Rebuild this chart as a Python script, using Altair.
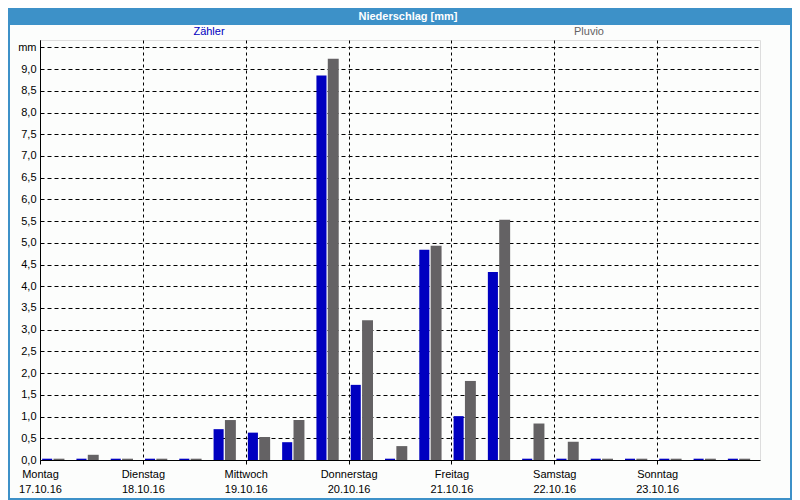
import altair as alt
import pandas as pd

# ---- data ----
days = ["Montag", "Dienstag", "Mittwoch", "Donnerstag", "Freitag", "Samstag", "Sonntag"]
dates = ["17.10.16", "18.10.16", "19.10.16", "20.10.16", "21.10.16", "22.10.16", "23.10.16"]
slots = list(range(21))  # 8-hour periods, Monday 00:00 .. Sunday 24:00
series = ["Zähler", "Pluvio"]
zaehler = [0.03, 0.03, 0.03, 0.03, 0.03, 0.71, 0.63, 0.41, 8.85, 1.73, 0.03,
           4.84, 1.01, 4.33, 0.03, 0.03, 0.03, 0.03, 0.03, 0.03, 0.03]
pluvio = [0.03, 0.12, 0.03, 0.03, 0.03, 0.92, 0.53, 0.92, 9.24, 3.22, 0.32,
          4.93, 1.82, 5.53, 0.84, 0.42, 0.03, 0.03, 0.03, 0.03, 0.03]
y_ticks = [i * 0.5 for i in range(20)]   # 0,0 .. 9,5 ("mm")
day_ticks = [i * 24 for i in range(7)]
title_text = "Niederschlag [mm]"

BLUE = "#0000c0"
GRAY = "#646264"
BAR_BG = "#3d91c8"
PAD_B = 40
PAD_R = 32

rows = []
for s, z, p in zip(slots, zaehler, pluvio):
    rows.append({"slot": s, "series": series[0], "value": z})
    rows.append({"slot": s, "series": series[1], "value": p})
df = pd.DataFrame(rows)

days_js = "[" + ",".join("'" + d + "'" for d in days) + "]"
dates_js = "[" + ",".join("'" + d + "'" for d in dates) + "]"

x_scale = alt.Scale(domain=[0, 168], nice=False, zero=False)
y_scale = alt.Scale(domain=[0, 9.67], nice=False)

bars = alt.Chart(df).transform_calculate(
    x0="datum.slot * 8 + (datum.series == 'Zähler' ? 0.5 : 3.15)",
    x1="datum.slot * 8 + (datum.series == 'Zähler' ? 2.85 : 5.7)",
).mark_rect().encode(
    x=alt.X("x0:Q", scale=x_scale, title=None,
            axis=alt.Axis(values=day_ticks, grid=True, gridDash=[3, 3], gridColor="black",
                          gridOpacity=1, tickSize=4, tickColor="black", domainColor="black",
                          labelExpr=f"[{days_js}[floor(datum.value/24)], {dates_js}[floor(datum.value/24)]]",
                          labelFlush=False, labelOverlap=False, labelBound=False,
                          labelPadding=4, labelLineHeight=15, labelFontSize=11,
                          labelColor="black", labelFont="Liberation Sans")),
    x2="x1:Q",
    y=alt.Y("value:Q", scale=y_scale, title=None,
            axis=alt.Axis(values=y_ticks, grid=True, gridDash=[4, 3], gridColor="black",
                          gridOpacity=1, ticks=False, domainColor="black",
                          labelExpr="datum.value >= 9.5 ? 'mm' : replace(format(datum.value, '.1f'), '.', ',')",
                          labelPadding=4, labelFontSize=11, labelColor="black",
                          labelFont="Liberation Sans", labelOverlap=False, labelFlush=False)),
    y2=alt.datum(0),
    color=alt.Color("series:N", scale=alt.Scale(domain=series, range=[BLUE, GRAY]), legend=None),
)

one = alt.Data(values=[{}])

title_bar = alt.Chart(one).mark_rect(color=BAR_BG).encode(
    x=alt.value(-32), x2=alt.value(720 + PAD_R), y=alt.value(-32), y2=alt.value(-15)
)
title_txt = alt.Chart(one).mark_text(
    font="Liberation Sans", fontSize=11, fontWeight="bold", color="white",
    align="center", baseline="middle"
).encode(x=alt.value(368), y=alt.value(-23), text=alt.value(title_text))

leg_z = alt.Chart(one).mark_text(
    font="Liberation Sans", fontSize=11, color=BLUE, align="center", baseline="middle"
).encode(x=alt.value(169), y=alt.value(-8), text=alt.value(series[0]))
leg_p = alt.Chart(one).mark_text(
    font="Liberation Sans", fontSize=11, color=GRAY, align="center", baseline="middle"
).encode(x=alt.value(549), y=alt.value(-8), text=alt.value(series[1]))

border_l = alt.Chart(one).mark_rule(color=BAR_BG, strokeWidth=2).encode(
    x=alt.value(-31), y=alt.value(-32), y2=alt.value(420 + PAD_B))
border_r = alt.Chart(one).mark_rule(color=BAR_BG, strokeWidth=2).encode(
    x=alt.value(720 + PAD_R - 1), y=alt.value(-32), y2=alt.value(420 + PAD_B))
border_b = alt.Chart(one).mark_rule(color=BAR_BG, strokeWidth=2).encode(
    x=alt.value(-32), x2=alt.value(720 + PAD_R), y=alt.value(420 + PAD_B - 1))

chart = alt.layer(
    bars, title_bar, title_txt, leg_z, leg_p, border_l, border_r, border_b
).properties(
    width=720, height=420,
    autosize=alt.AutoSizeParams(type="none"),
    padding={"left": 32, "top": 32, "right": PAD_R, "bottom": PAD_B},
    background="#fcfdfc",
).configure_view(
    stroke="black", strokeWidth=1
).configure(
    font="Liberation Sans"
)

chart.save("out.html", embed_options={"renderer": "svg", "actions": False})
